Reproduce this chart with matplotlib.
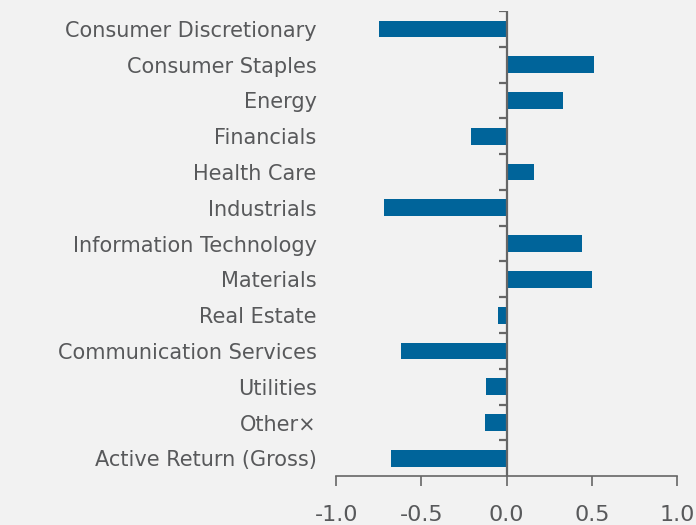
import numpy as np
import matplotlib
matplotlib.use("Agg")
import matplotlib.pyplot as plt

sectors = ["Consumer Discretionary", "Consumer Staples", "Energy", "Financials",
           "Health Care", "Industrials", "Information Technology", "Materials",
           "Real Estate", "Communication Services", "Utilities", "Other×",
           "Active Return (Gross)"]
values = [-0.75, 0.51, 0.33, -0.21, 0.16, -0.72, 0.44, 0.50, -0.05, -0.62,
          -0.12, -0.13, -0.68]
xticks = [-1.0, -0.5, 0.0, 0.5, 1.0]

BG = "#f2f2f2"
BAR = "#00649a"
TXT = "#58595b"
AX = "#666666"

plt.rcParams["font.family"] = ["DejaVu Sans"]

fig = plt.figure(figsize=(6.96, 5.25), dpi=100, facecolor=BG)
ax = fig.add_axes([0.483, 0.093, 0.49, 0.886], facecolor=BG)

y = np.arange(len(sectors))
ax.barh(y, values, height=0.47, color=BAR, zorder=2)

ax.set_xlim(-1.0, 1.0)
ax.set_ylim(len(sectors) - 0.5, -0.5)

# zero line with separator ticks between categories
ax.axvline(0, color=AX, lw=1.6, zorder=3)
bounds = np.arange(len(sectors) + 1) - 0.5
ax.hlines(bounds[:-1], -0.047, 0, color=AX, lw=1.6, zorder=3)

ax.set_yticks(y)
ax.set_yticklabels(sectors, fontsize=15, color=TXT)
ax.tick_params(axis="y", length=0, pad=14)

ax.set_xticks(xticks)
ax.set_xticklabels([f"{v:.1f}" for v in xticks], fontsize=16, color=TXT)
ax.tick_params(axis="x", length=7, width=1.2, color=AX, pad=14)

for s in ["top", "right", "left"]:
    ax.spines[s].set_visible(False)
ax.spines["bottom"].set_color(AX)
ax.spines["bottom"].set_linewidth(1.2)

fig.savefig("out.png", dpi=100, facecolor=BG)
